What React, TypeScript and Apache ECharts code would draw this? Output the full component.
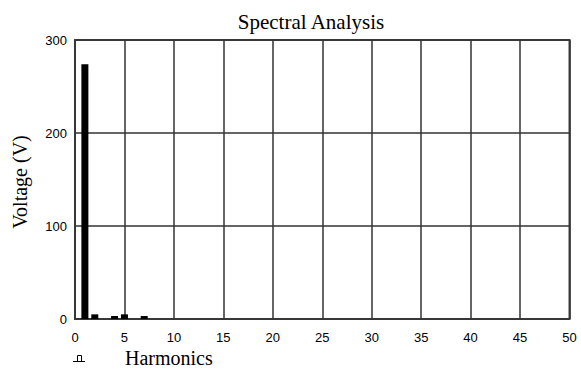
import React, { useEffect, useRef } from "react";
import * as echarts from "echarts";

const title = "Spectral Analysis";
const xLabel = "Harmonics";
const yLabel = "Voltage (V)";
const harmonics = [1, 2, 4, 5, 7];
const voltages = [274, 5, 3.2, 5, 3.2];
const xMin = 0, xMax = 50, xStep = 5;
const yMin = 0, yMax = 300, yStep = 100;

export default function App() {
  const ref = useRef<HTMLDivElement>(null);
  useEffect(() => {
    if (!ref.current) return;
    const chart = echarts.init(ref.current, null, { renderer: "svg" });
    const tickFont = { fontFamily: "Liberation Sans", fontSize: 13, color: "#000" };
    chart.setOption({
      animation: false,
      backgroundColor: "#fff",
      grid: {
        left: 75, right: 11.5, top: 40, bottom: 51,
        show: true, borderColor: "#444", borderWidth: 2, backgroundColor: "transparent",
      },
      xAxis: {
        type: "value", min: xMin, max: xMax, interval: xStep,
        axisLine: { show: false }, axisTick: { show: false },
        axisLabel: { ...tickFont, margin: 12 },
        splitLine: { show: true, lineStyle: { color: "#333", width: 1.5 } },
      },
      yAxis: {
        type: "value", min: yMin, max: yMax, interval: yStep,
        axisLine: { show: false }, axisTick: { show: false },
        axisLabel: { ...tickFont, margin: 8 },
        splitLine: { show: true, lineStyle: { color: "#333", width: 1.5 } },
      },
      series: [{
        type: "bar",
        data: harmonics.map((h, i) => [h, voltages[i]]),
        barWidth: 7,
        itemStyle: { color: "#000" },
      }],
      graphic: [
        { type: "text", x: 311, y: 22, style: { text: title, font: "21px 'Liberation Serif'", fill: "#000", textAlign: "center", textVerticalAlign: "middle" } },
        { type: "text", x: 125, y: 358, style: { text: xLabel, font: "20px 'Liberation Serif'", fill: "#000", textAlign: "left", textVerticalAlign: "middle" } },
        { type: "text", x: 20, y: 182, rotation: Math.PI / 2, style: { text: yLabel, font: "20px 'Liberation Serif'", fill: "#000", textAlign: "center", textVerticalAlign: "middle" } },
        { type: "line", shape: { x1: 73, y1: 361.5, x2: 85, y2: 361.5 }, style: { stroke: "#000", lineWidth: 1 } },
        { type: "polyline", shape: { points: [[77.5, 361.5], [77.5, 355.5], [81.5, 355.5], [81.5, 361.5]] }, style: { stroke: "#000", lineWidth: 1, fill: "none" } },
      ],
    });
    return () => chart.dispose();
  }, []);
  return <div ref={ref} style={{ width: 581, height: 370, position: "absolute", left: 0, top: 0 }} />;
}
